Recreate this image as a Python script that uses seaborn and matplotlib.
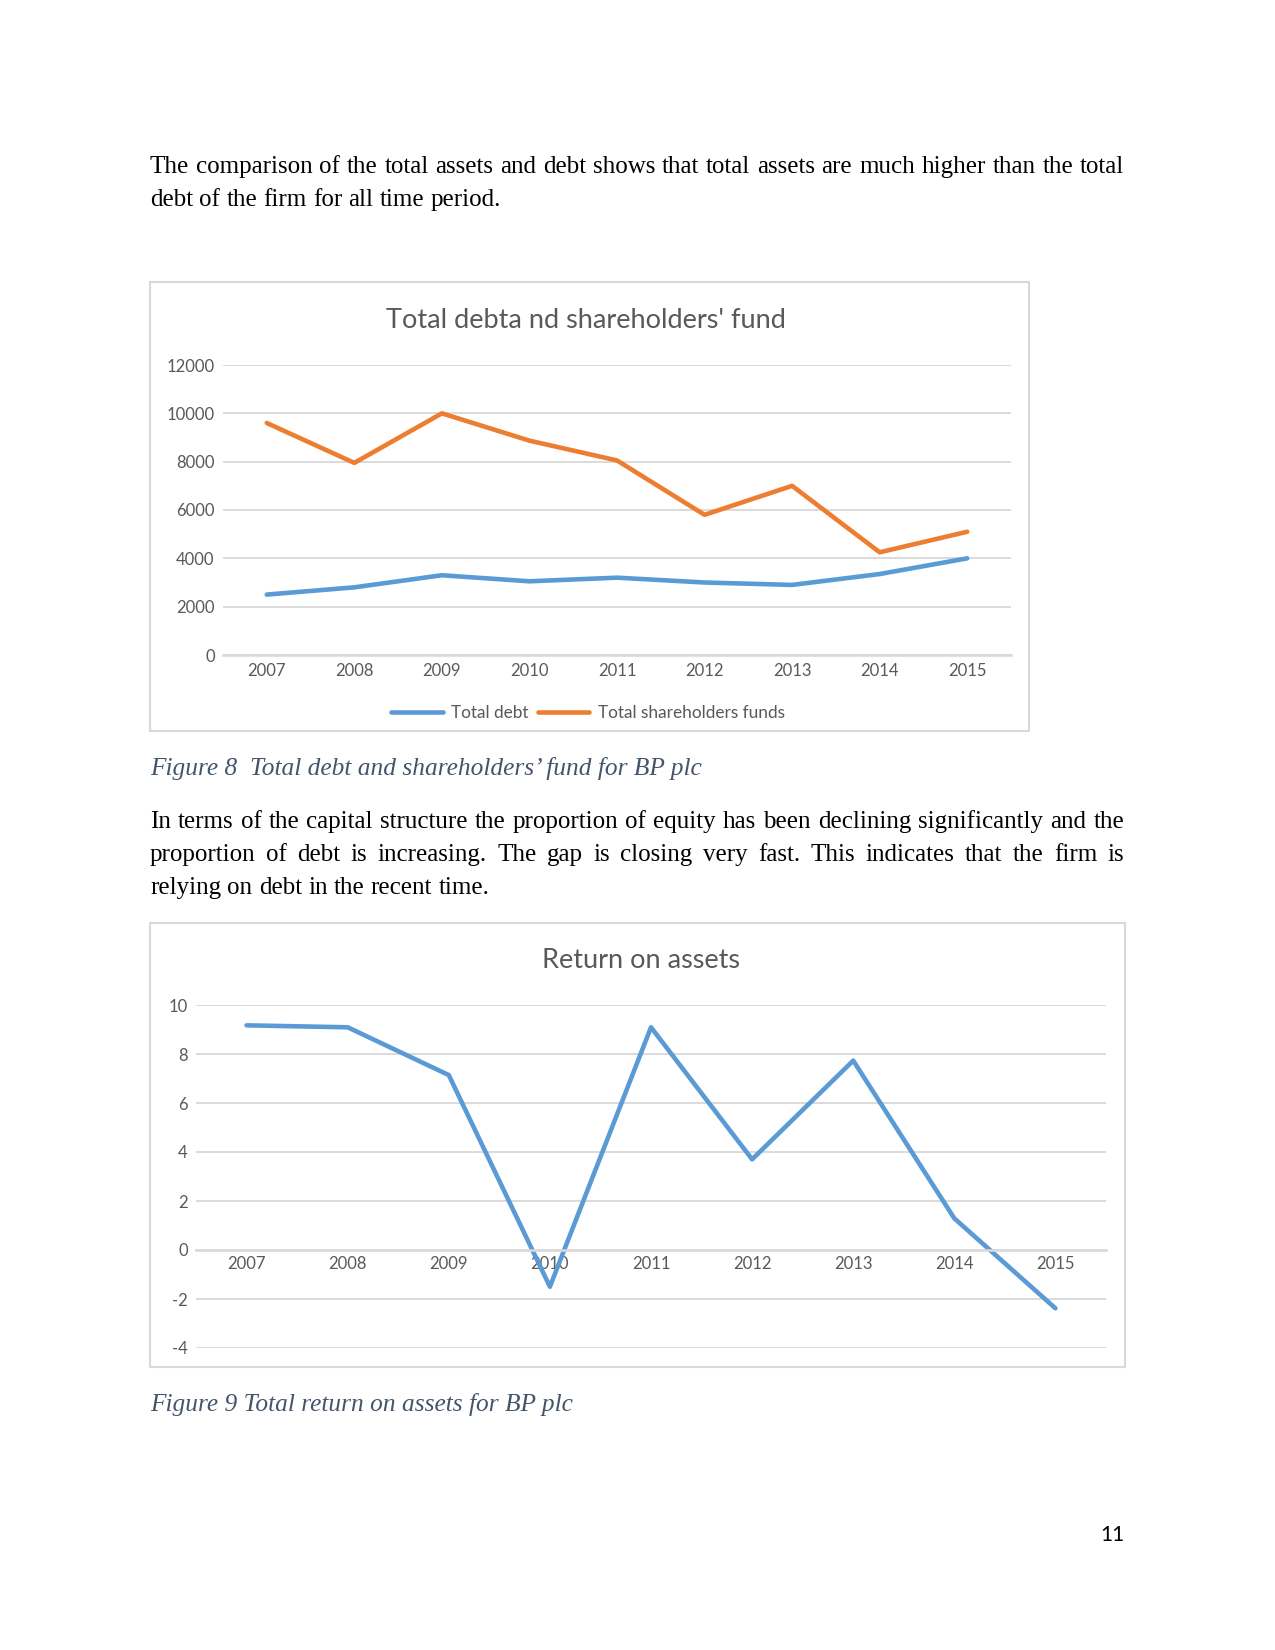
import numpy as np
import pandas as pd
import matplotlib
matplotlib.use("Agg")
import matplotlib.pyplot as plt
import seaborn as sns
from matplotlib.patches import Rectangle

# data
years = ["2007", "2008", "2009", "2010", "2011", "2012", "2013", "2014", "2015"]
total_debt = [2500, 2800, 3300, 3050, 3200, 3000, 2900, 3350, 4000]
shareholders_funds = [9600, 7950, 10000, 8870, 8050, 5800, 7000, 4250, 5100]
roa = [9.17, 9.09, 7.14, -1.5, 9.09, 3.70, 7.73, 1.29, -2.38]

para1 = [
    "The comparison of the total assets and debt shows that total assets are much higher than the total",
    "debt of the firm for all time period.",
]
para2 = [
    "In terms of the capital structure the proportion of equity has been declining significantly and the",
    "proportion of debt is increasing. The gap is closing very fast. This indicates that the firm is",
    "relying on debt in the recent time.",
]
caption1 = "Figure 8  Total debt and shareholders\u2019 fund for BP plc"
caption2 = "Figure 9 Total return on assets for BP plc"

BLUE = "#5B9BD5"
ORANGE = "#ED7D31"
GRID = "#D9D9D9"
TXT = "#595959"
CAP = "#44546A"

sns.set_theme(style="white")
plt.rcParams['font.family'] = ['Lato', 'DejaVu Sans']
plt.rcParams['axes.unicode_minus'] = False

W, H = 1275, 1650
fig = plt.figure(figsize=(W / 150, H / 150), dpi=150)
fig.patch.set_facecolor("white")


def fx(px):
    return px / W


def fy(py):
    return 1 - py / H


def justified(lines, x0, x1, y0, dy, **kw):
    renderer = fig.canvas.get_renderer()
    for i, line in enumerate(lines):
        words = line.split()
        texts = [fig.text(0, 0, w, va="baseline", **kw) for w in words]
        widths = [t.get_window_extent(renderer).width for t in texts]
        if i == len(lines) - 1:
            sp = fig.text(0, 0, "a a", **kw)
            sp2 = fig.text(0, 0, "aa", **kw)
            gap = sp.get_window_extent(renderer).width - sp2.get_window_extent(renderer).width
            sp.remove()
            sp2.remove()
        else:
            gap = (x1 - x0 - sum(widths)) / (len(words) - 1)
        pos = x0
        for t, w in zip(texts, widths):
            t.set_position((fx(pos), fy(y0 + i * dy)))
            pos += w + gap


body = dict(family=['Liberation Serif', 'DejaVu Serif'], fontsize=12, color="black")
cap = dict(family=['Liberation Serif', 'DejaVu Serif'], fontsize=12.2, color=CAP, style="italic")

justified(para1, 150, 1124, 173, 33, **body)
justified(para2, 150, 1124, 828, 33, **body)
fig.text(fx(150), fy(775), caption1, va="baseline", **cap)
fig.text(fx(150), fy(1411), caption2, va="baseline", **cap)
fig.text(fx(1125), fy(1541), "11", ha="right", va="baseline", fontsize=10, color="black")

# chart frames
for (x0, y0, x1, y1) in [(150, 282, 1029, 731), (150, 923, 1125, 1367)]:
    fig.patches.append(Rectangle((fx(x0), fy(y1)), fx(x1) - fx(x0), fy(y0) - fy(y1),
                                 transform=fig.transFigure, fill=False,
                                 edgecolor=GRID, linewidth=1))

# chart 1: total debt and shareholders' fund
df1 = pd.DataFrame({
    "year": years * 2,
    "value": total_debt + shareholders_funds,
    "series": ["Total debt"] * len(years) + ["Total shareholders funds"] * len(years),
})
ax1 = fig.add_axes([fx(223), fy(655), fx(1011) - fx(223), fy(365) - fy(655)])
sns.lineplot(data=df1, x="year", y="value", hue="series",
             palette=[BLUE, ORANGE], linewidth=2.2, ax=ax1, legend=False)
ax1.set_xlim(-0.5, 8.5)
ax1.set_ylim(0, 12000)
ax1.set_yticks(range(0, 12001, 2000))
ax1.grid(axis="y", color=GRID, linewidth=0.9)
ax1.set_axisbelow(True)
for s in ["top", "right", "left"]:
    ax1.spines[s].set_visible(False)
ax1.spines["bottom"].set_color(GRID)
ax1.tick_params(length=0, labelsize=8, labelcolor=TXT)
ax1.tick_params(axis="x", pad=4)
ax1.tick_params(axis="y", pad=4)
ax1.set_xlabel("")
ax1.set_ylabel("")
fig.text(fx(586), fy(321), "Total debta nd shareholders' fund", ha="center", va="center",
         fontsize=13, color=TXT)
handles = [plt.Line2D([], [], color=BLUE, lw=2.2), plt.Line2D([], [], color=ORANGE, lw=2.2)]
fig.legend(handles, ["Total debt", "Total shareholders funds"], loc="center",
           bbox_to_anchor=(fx(588), fy(713)), ncol=2, frameon=False, fontsize=8.3,
           labelcolor=TXT, handlelength=3.0, handletextpad=0.5, columnspacing=0.5)

# chart 2: return on assets
df2 = pd.DataFrame({"year": years, "roa": roa})
ax2 = fig.add_axes([fx(196), fy(1348), fx(1106) - fx(196), fy(1005) - fy(1348)])
sns.lineplot(data=df2, x="year", y="roa", color=BLUE, linewidth=2.2, ax=ax2)
ax2.set_xlim(-0.5, 8.5)
ax2.set_ylim(-4, 10)
ax2.set_yticks(range(-4, 11, 2))
ax2.grid(axis="y", color=GRID, linewidth=0.9)
ax2.set_axisbelow(True)
for s in ["top", "right", "left"]:
    ax2.spines[s].set_visible(False)
ax2.spines["bottom"].set_position(("data", 0))
ax2.spines["bottom"].set_color(GRID)
ax2.tick_params(length=0, labelsize=8, labelcolor=TXT)
ax2.tick_params(axis="x", pad=3)
ax2.tick_params(axis="y", pad=4)
ax2.set_xlabel("")
ax2.set_ylabel("")
fig.text(fx(641), fy(961), "Return on assets", ha="center", va="center",
         fontsize=13, color=TXT)

fig.savefig("out.png", dpi=150)
